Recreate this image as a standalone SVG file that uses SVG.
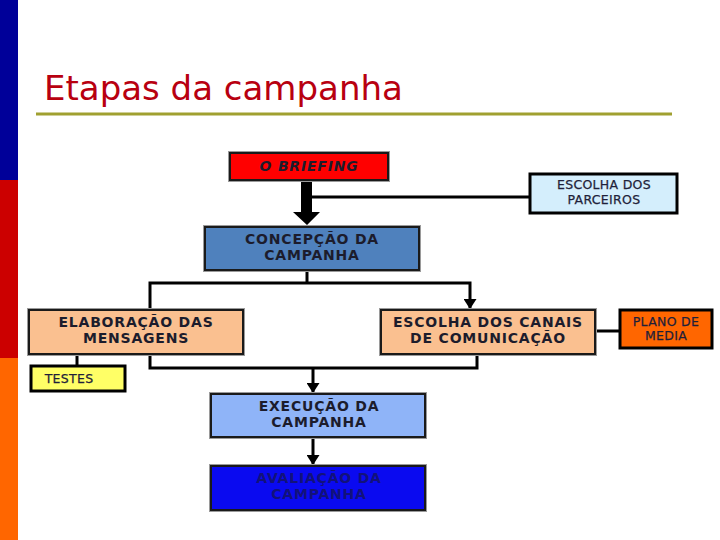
<svg xmlns="http://www.w3.org/2000/svg" width="720" height="540" viewBox="0 0 720 540">
<defs>
<style>
.box{stroke:#1a1a1a;stroke-width:2}
.outer{fill:none;stroke:#9a9a9a;stroke-width:1}
.lbl{font-family:"DejaVu Sans",Verdana,sans-serif;font-weight:bold;font-size:14px;fill:#1c1c2c;text-anchor:middle;letter-spacing:0.8px}
.sm{font-family:"DejaVu Sans",Verdana,sans-serif;font-size:12.5px;fill:#1f1f3a;stroke:#1f1f3a;stroke-width:0.25;text-anchor:middle;letter-spacing:0.3px}
.ln{fill:none;stroke:#000;stroke-width:3}
.sb{stroke:#000;stroke-width:3}
</style>
<marker id="ah" viewBox="0 0 10 13" refX="9" refY="6.5" markerWidth="10" markerHeight="13" markerUnits="userSpaceOnUse" orient="auto">
<path d="M0,0 L10,6.5 L0,13 Z" fill="#000"/>
</marker>
</defs>
<rect width="720" height="540" fill="#ffffff"/>
<g id="sidebar">
<rect x="0" y="0" width="18" height="180" fill="#000099"/>
<rect x="0" y="180" width="18" height="178" fill="#cc0000"/>
<rect x="0" y="358" width="18" height="182" fill="#ff6600"/>
</g>
<g id="title">
<text x="44" y="100" font-family="DejaVu Sans,Verdana,sans-serif" font-size="34" fill="#b80010">Etapas da campanha</text>
<line x1="36" y1="114" x2="672" y2="114" stroke="#a0a030" stroke-width="3"/>
</g>
<g id="connectors">
<path d="M301,181 V212 H293 L307,225 L320,212 H312 V181 Z" fill="#000"/>
<line class="ln" x1="312" y1="197" x2="530" y2="197"/>
<polyline class="ln" points="307,271 307,283"/>
<polyline class="ln" points="150,308 150,283 470,283 470,308" marker-start="url(#ah)" marker-end="url(#ah)"/>
<line class="ln" x1="596" y1="331" x2="620" y2="331"/>
<line class="ln" x1="77" y1="355" x2="77" y2="366"/>
<polyline class="ln" points="150,355 150,368 477,368 477,355"/>
<line class="ln" x1="313" y1="368" x2="313" y2="392" marker-end="url(#ah)"/>
<line class="ln" x1="313" y1="438" x2="313" y2="464" marker-end="url(#ah)"/>
</g>
<g id="briefing">
<rect class="box" x="230" y="153" width="158" height="27" fill="#ff0000"/>
<rect class="outer" x="228.5" y="151.5" width="161" height="30"/>
<text class="lbl" x="309" y="171" font-style="italic">O BRIEFING</text>
</g>
<g id="parceiros">
<rect x="530" y="174" width="147" height="39" fill="#d4eefc" class="sb"/>
<text class="sm" x="604" y="189">ESCOLHA DOS</text>
<text class="sm" x="604" y="204">PARCEIROS</text>
</g>
<g id="concepcao">
<rect class="box" x="205" y="227" width="214" height="43" fill="#4f81bd"/>
<rect class="outer" x="203.5" y="225.5" width="217" height="46"/>
<text class="lbl" x="312" y="244">CONCEPÇÃO DA</text>
<text class="lbl" x="312" y="260">CAMPANHA</text>
</g>
<g id="elaboracao">
<rect class="box" x="29" y="310" width="214" height="44" fill="#fac090"/>
<rect class="outer" x="27.5" y="308.5" width="217" height="47"/>
<text class="lbl" x="136" y="327">ELABORAÇÃO DAS</text>
<text class="lbl" x="136" y="343">MENSAGENS</text>
</g>
<g id="canais">
<rect class="box" x="381" y="310" width="214" height="44" fill="#fac090"/>
<rect class="outer" x="379.5" y="308.5" width="217" height="47"/>
<text class="lbl" x="488" y="327">ESCOLHA DOS CANAIS</text>
<text class="lbl" x="488" y="343">DE COMUNICAÇÃO</text>
</g>
<g id="plano">
<rect x="620" y="310" width="92" height="38" fill="#ff6600" class="sb"/>
<text class="sm" x="666" y="326">PLANO DE</text>
<text class="sm" x="666" y="340">MEDIA</text>
</g>
<g id="testes">
<rect x="31" y="366" width="94" height="25" fill="#ffff66" class="sb"/>
<text class="sm" x="69" y="383">TESTES</text>
</g>
<g id="execucao">
<rect class="box" x="211" y="394" width="214" height="43" fill="#8fb4f8"/>
<rect class="outer" x="209.5" y="392.5" width="217" height="46"/>
<text class="lbl" x="319" y="411">EXECUÇÃO DA</text>
<text class="lbl" x="319" y="427">CAMPANHA</text>
</g>
<g id="avaliacao">
<rect class="box" x="211" y="466" width="214" height="44" fill="#0a0af0"/>
<rect class="outer" x="209.5" y="464.5" width="217" height="47"/>
<text class="lbl" x="319" y="483" style="fill:#12127a">AVALIAÇÃO DA</text>
<text class="lbl" x="319" y="499" style="fill:#12127a">CAMPANHA</text>
</g>
</svg>
